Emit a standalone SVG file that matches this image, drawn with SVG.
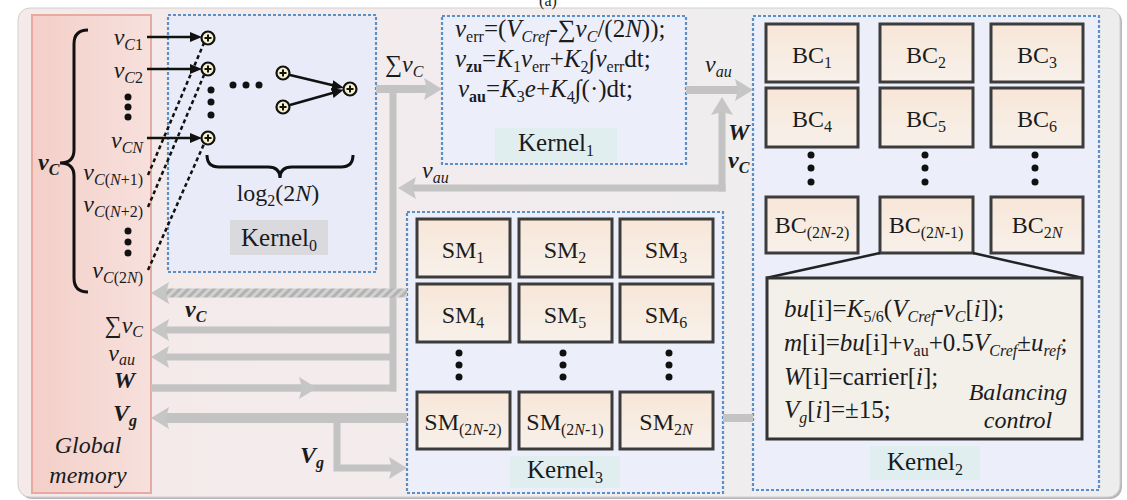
<svg xmlns="http://www.w3.org/2000/svg" width="1127" height="500" viewBox="0 0 1127 500" font-family="'Liberation Serif', 'DejaVu Serif', serif">
<defs>
<style>
text{font-family:'Liberation Serif','DejaVu Serif',serif}
.tx{font-size:24px;fill:#1b1b1b}
.it{font-style:italic}
.bd{font-weight:bold}
.sb{font-size:16px}
.kl{font-size:25px}
.kern{fill:#eceefa;stroke:#5b8fc7;stroke-width:2.2;stroke-dasharray:3 2}
.cell{fill:url(#cell);stroke:#3c3c3c;stroke-width:3}
.gl{fill:none;stroke:#c3c3c3;stroke-linejoin:miter}
.bl{fill:none;stroke:#111;stroke-width:2.5}
.dot{fill:#111}
</style>
<linearGradient id="bg" x1="0" y1="0" x2="1" y2="0">
<stop offset="0" stop-color="#f5e9e9"/>
<stop offset="0.45" stop-color="#f2ecee"/>
<stop offset="0.75" stop-color="#eeeeee"/>
<stop offset="1" stop-color="#ededed"/>
</linearGradient>
<linearGradient id="gm" x1="0" y1="0" x2="1" y2="0">
<stop offset="0" stop-color="#f3cfc8"/>
<stop offset="1" stop-color="#f7e0dc"/>
</linearGradient>
<linearGradient id="cell" x1="0" y1="0" x2="0" y2="1">
<stop offset="0" stop-color="#f8e6d8"/>
<stop offset="1" stop-color="#f7f1ea"/>
</linearGradient>
<pattern id="hatch" width="6" height="6" patternUnits="userSpaceOnUse" patternTransform="rotate(45)">
<rect width="6" height="6" fill="#d2d2d2"/>
<rect width="3" height="6" fill="#b3b3b3"/>
</pattern>
<marker id="ga" markerUnits="userSpaceOnUse" markerWidth="20" markerHeight="24" refX="8" refY="12" orient="auto">
<path d="M0,1 L18,12 L0,23 L3,12 z" fill="#c6c6c6"/>
</marker>
<marker id="ba" markerUnits="userSpaceOnUse" markerWidth="14" markerHeight="12" refX="4" refY="5" orient="auto">
<path d="M0,0 L12,5 L0,10 z" fill="#111"/>
</marker>
<g id="adder">
<circle r="6.5" fill="#f6f1c9" stroke="#111" stroke-width="2.2"/>
<path d="M-3.5,0 H3.5 M0,-3.5 V3.5" stroke="#111" stroke-width="2"/>
</g>
</defs>

<g id="background">
<rect x="20" y="10" width="1102" height="489" rx="12" fill="#b8b8b8"/>
<rect x="18" y="8" width="1102" height="489" rx="12" fill="url(#bg)" stroke="#d0d0d0" stroke-width="1"/>
<text class="tx" x="548" y="6" text-anchor="middle" style="font-size:16px">(a)</text>
</g>

<g id="global-memory">
<rect x="32" y="15" width="119" height="478" fill="url(#gm)" stroke="#e6aaa0" stroke-width="2"/>
<text class="tx it bd" x="38" y="170">v<tspan class="sb" dy="5">C</tspan></text>
<path class="bl" style="stroke-width:3" d="M88,30 Q74,30 74,44 L74,150 Q74,163 60,163 Q74,163 74,176 L74,278 Q74,292 88,292"/>
<text class="tx" x="143" y="45" text-anchor="end"><tspan class="it">v</tspan><tspan class="sb" dy="5"><tspan class="it">C</tspan>1</tspan></text>
<text class="tx" x="143" y="78" text-anchor="end"><tspan class="it">v</tspan><tspan class="sb" dy="5"><tspan class="it">C</tspan>2</tspan></text>
<circle class="dot" cx="128" cy="97" r="3.5"/><circle class="dot" cx="128" cy="107" r="3.5"/><circle class="dot" cx="128" cy="117" r="3.5"/>
<text class="tx" x="143" y="148" text-anchor="end"><tspan class="it">v</tspan><tspan class="sb it" dy="5">CN</tspan></text>
<text class="tx" x="143" y="180" text-anchor="end"><tspan class="it">v</tspan><tspan class="sb" dy="5"><tspan class="it">C</tspan>(<tspan class="it">N</tspan>+1)</tspan></text>
<text class="tx" x="143" y="212" text-anchor="end"><tspan class="it">v</tspan><tspan class="sb" dy="5"><tspan class="it">C</tspan>(<tspan class="it">N</tspan>+2)</tspan></text>
<circle class="dot" cx="128" cy="231" r="3.5"/><circle class="dot" cx="128" cy="242" r="3.5"/><circle class="dot" cx="128" cy="253" r="3.5"/>
<text class="tx" x="143" y="278" text-anchor="end"><tspan class="it">v</tspan><tspan class="sb" dy="5"><tspan class="it">C</tspan>(2<tspan class="it">N</tspan>)</tspan></text>
<text class="tx" x="143" y="333" text-anchor="end">∑<tspan class="it">v</tspan><tspan class="sb it" dy="4">C</tspan></text>
<text class="tx" x="135" y="361" text-anchor="end"><tspan class="it">v</tspan><tspan class="sb it" dy="4">au</tspan></text>
<text class="tx it bd" x="135" y="388" text-anchor="end">W</text>
<text class="tx it bd" x="137" y="421" text-anchor="end">V<tspan class="sb" dy="5">g</tspan></text>
<text class="tx it" x="88" y="453" text-anchor="middle">Global</text>
<text class="tx it" x="88" y="483" text-anchor="middle">memory</text>
</g>

<g id="kernel0">
<rect class="kern" x="168" y="15" width="208" height="257" style="fill:#e9ecf8"/>
<use href="#adder" x="208" y="38"/>
<use href="#adder" x="208" y="69"/>
<use href="#adder" x="208" y="138"/>
<circle class="dot" cx="211" cy="90" r="3.5"/><circle class="dot" cx="211" cy="102" r="3.5"/><circle class="dot" cx="211" cy="115" r="3.5"/>
<circle class="dot" cx="233" cy="85" r="3.5"/><circle class="dot" cx="246" cy="85" r="3.5"/><circle class="dot" cx="259" cy="85" r="3.5"/>
<use href="#adder" x="283" y="73"/>
<use href="#adder" x="283" y="107"/>
<use href="#adder" x="350" y="89"/>
<path class="bl" style="stroke-width:3" d="M207,155 Q207,167 219,167 L268,167 Q280,167 280,178 Q280,167 292,167 L341,167 Q353,167 353,155"/>
<text class="tx" x="278" y="201" text-anchor="middle">log<tspan class="sb" dy="5">2</tspan><tspan dy="-5">(2</tspan><tspan class="it">N</tspan>)</text>
<rect x="230" y="220" width="98" height="35" fill="#d9d9de"/>
<text class="tx kl" x="279" y="246" text-anchor="middle">Kernel<tspan class="sb" dy="5">0</tspan></text>
</g>

<g id="kernel1">
<rect class="kern" x="442" y="16" width="244" height="148"/>
<text class="tx" x="455" y="37" style="font-size:25px"><tspan class="it">v</tspan><tspan class="sb" dy="5">err</tspan><tspan dy="-5">=(</tspan><tspan class="it">V</tspan><tspan class="sb it" dy="5">Cref</tspan><tspan dy="-5">-∑</tspan><tspan class="it">v</tspan><tspan class="sb it" dy="5">C</tspan><tspan dy="-5">/(2</tspan><tspan class="it">N</tspan>));</text>
<text class="tx" x="455" y="67" style="font-size:25px"><tspan class="it">v</tspan><tspan class="sb bd" dy="5">zu</tspan><tspan dy="-5">=</tspan><tspan class="it">K</tspan><tspan class="sb" dy="5">1</tspan><tspan class="it" dy="-5">v</tspan><tspan class="sb" dy="5">err</tspan><tspan dy="-5">+</tspan><tspan class="it">K</tspan><tspan class="sb" dy="5">2</tspan><tspan dy="-5">∫</tspan><tspan class="it">v</tspan><tspan class="sb" dy="5">err</tspan><tspan dy="-5">dt;</tspan></text>
<text class="tx" x="458" y="97" style="font-size:25px"><tspan class="it">v</tspan><tspan class="sb bd" dy="5">au</tspan><tspan dy="-5">=</tspan><tspan class="it">K</tspan><tspan class="sb" dy="5">3</tspan><tspan class="it" dy="-5">e</tspan>+<tspan class="it">K</tspan><tspan class="sb" dy="5">4</tspan><tspan dy="-5">∫(·)dt;</tspan></text>
<rect x="495" y="128" width="122" height="34" fill="#e0eeef"/>
<text class="tx kl" x="556" y="151" text-anchor="middle">Kernel<tspan class="sb" dy="5">1</tspan></text>
</g>

<g id="kernel3">
<rect class="kern" x="407" y="212" width="316" height="281"/>
<rect class="cell" x="417" y="219" width="93" height="58"/>
<rect class="cell" x="519" y="219" width="93" height="58"/>
<rect class="cell" x="620" y="219" width="93" height="58"/>
<rect class="cell" x="417" y="284" width="93" height="58"/>
<rect class="cell" x="519" y="284" width="93" height="58"/>
<rect class="cell" x="620" y="284" width="93" height="58"/>
<rect class="cell" x="417" y="392" width="93" height="57"/>
<rect class="cell" x="519" y="392" width="93" height="57"/>
<rect class="cell" x="620" y="392" width="93" height="57"/>
<text class="tx" x="463" y="258" text-anchor="middle">SM<tspan class="sb" dy="5">1</tspan></text>
<text class="tx" x="565" y="258" text-anchor="middle">SM<tspan class="sb" dy="5">2</tspan></text>
<text class="tx" x="666" y="258" text-anchor="middle">SM<tspan class="sb" dy="5">3</tspan></text>
<text class="tx" x="463" y="323" text-anchor="middle">SM<tspan class="sb" dy="5">4</tspan></text>
<text class="tx" x="565" y="323" text-anchor="middle">SM<tspan class="sb" dy="5">5</tspan></text>
<text class="tx" x="666" y="323" text-anchor="middle">SM<tspan class="sb" dy="5">6</tspan></text>
<text class="tx" x="463" y="430" text-anchor="middle">SM<tspan class="sb" dy="5">(2<tspan class="it">N</tspan>-2)</tspan></text>
<text class="tx" x="565" y="430" text-anchor="middle">SM<tspan class="sb" dy="5">(2<tspan class="it">N</tspan>-1)</tspan></text>
<text class="tx" x="666" y="430" text-anchor="middle">SM<tspan class="sb" dy="5">2<tspan class="it">N</tspan></tspan></text>
<circle class="dot" cx="459" cy="353" r="3.5"/><circle class="dot" cx="459" cy="365" r="3.5"/><circle class="dot" cx="459" cy="377" r="3.5"/>
<circle class="dot" cx="563" cy="353" r="3.5"/><circle class="dot" cx="563" cy="365" r="3.5"/><circle class="dot" cx="563" cy="377" r="3.5"/>
<circle class="dot" cx="669" cy="353" r="3.5"/><circle class="dot" cx="669" cy="365" r="3.5"/><circle class="dot" cx="669" cy="377" r="3.5"/>
<rect x="510" y="456" width="110" height="32" fill="#e0eeef"/>
<text class="tx kl" x="565" y="478" text-anchor="middle">Kernel<tspan class="sb" dy="5">3</tspan></text>
</g>

<g id="kernel2">
<rect class="kern" x="753" y="16" width="346" height="474"/>
<rect class="cell" x="766" y="24" width="92" height="58"/>
<rect class="cell" x="880" y="24" width="93" height="58"/>
<rect class="cell" x="991" y="24" width="92" height="58"/>
<rect class="cell" x="766" y="88" width="92" height="59"/>
<rect class="cell" x="880" y="88" width="93" height="59"/>
<rect class="cell" x="991" y="88" width="92" height="59"/>
<rect class="cell" x="766" y="197" width="92" height="56"/>
<rect class="cell" x="880" y="197" width="93" height="56"/>
<rect class="cell" x="991" y="197" width="92" height="56"/>
<text class="tx" x="812" y="63" text-anchor="middle">BC<tspan class="sb" dy="5">1</tspan></text>
<text class="tx" x="926" y="63" text-anchor="middle">BC<tspan class="sb" dy="5">2</tspan></text>
<text class="tx" x="1037" y="63" text-anchor="middle">BC<tspan class="sb" dy="5">3</tspan></text>
<text class="tx" x="812" y="127" text-anchor="middle">BC<tspan class="sb" dy="5">4</tspan></text>
<text class="tx" x="926" y="127" text-anchor="middle">BC<tspan class="sb" dy="5">5</tspan></text>
<text class="tx" x="1037" y="127" text-anchor="middle">BC<tspan class="sb" dy="5">6</tspan></text>
<text class="tx" x="812" y="233" text-anchor="middle">BC<tspan class="sb" dy="5">(2<tspan class="it">N</tspan>-2)</tspan></text>
<text class="tx" x="926" y="233" text-anchor="middle">BC<tspan class="sb" dy="5">(2<tspan class="it">N</tspan>-1)</tspan></text>
<text class="tx" x="1037" y="233" text-anchor="middle">BC<tspan class="sb" dy="5">2<tspan class="it">N</tspan></tspan></text>
<circle class="dot" cx="811" cy="155" r="3.5"/><circle class="dot" cx="811" cy="168" r="3.5"/><circle class="dot" cx="811" cy="182" r="3.5"/>
<circle class="dot" cx="925" cy="155" r="3.5"/><circle class="dot" cx="925" cy="168" r="3.5"/><circle class="dot" cx="925" cy="182" r="3.5"/>
<circle class="dot" cx="1035" cy="155" r="3.5"/><circle class="dot" cx="1035" cy="168" r="3.5"/><circle class="dot" cx="1035" cy="182" r="3.5"/>
<path d="M880,253 L766,278 M973,253 L1083,278" stroke="#222" stroke-width="2.5" fill="none"/>
<rect x="767" y="278" width="315" height="161" fill="#f3efe9" stroke="#333" stroke-width="3"/>
<text class="tx" x="784" y="317" style="font-size:25px"><tspan class="it">bu</tspan>[i]=<tspan class="it">K</tspan><tspan class="sb" dy="5">5/6</tspan><tspan dy="-5">(</tspan><tspan class="it">V</tspan><tspan class="sb it" dy="5">Cref</tspan><tspan dy="-5">-</tspan><tspan class="it">v</tspan><tspan class="sb it" dy="5">C</tspan><tspan dy="-5">[</tspan><tspan class="it">i</tspan>]);</text>
<text class="tx" x="784" y="351" style="font-size:25px"><tspan class="it">m</tspan>[i]=<tspan class="it">bu</tspan>[i]+<tspan class="it">v</tspan><tspan class="sb" dy="5">au</tspan><tspan dy="-5">+0.5</tspan><tspan class="it">V</tspan><tspan class="sb it" dy="5">Cref</tspan><tspan dy="-5">±</tspan><tspan class="it">u</tspan><tspan class="sb it" dy="5">ref</tspan><tspan dy="-5">;</tspan></text>
<text class="tx" x="784" y="385" style="font-size:25px"><tspan class="it">W</tspan>[i]=carrier[<tspan class="it">i</tspan>];</text>
<text class="tx" x="784" y="418" style="font-size:25px"><tspan class="it">V</tspan><tspan class="sb it" dy="5">g</tspan><tspan dy="-5">[</tspan><tspan class="it">i</tspan>]=±15;</text>
<text class="tx it" x="1018" y="400" text-anchor="middle">Balancing</text>
<text class="tx it" x="1018" y="428" text-anchor="middle">control</text>
<rect x="870" y="446" width="110" height="34" fill="#e0eeef"/>
<text class="tx kl" x="925" y="470" text-anchor="middle">Kernel<tspan class="sb" dy="5">2</tspan></text>
</g>

<g id="connectors">
<path class="gl" style="stroke-width:8" d="M376,89 H432" marker-end="url(#ga)"/>
<path class="gl" style="stroke-width:7" d="M393,89 V391.5"/>
<path class="gl" style="stroke-width:7" d="M393,330 H161" marker-end="url(#ga)"/>
<path class="gl" style="stroke-width:7" d="M393,357 H161" marker-end="url(#ga)"/>
<path class="gl" style="stroke-width:7" d="M151,388 H396"/>
<path class="gl" style="stroke-width:7" d="M151,388 H307" marker-end="url(#ga)"/>
<path class="gl" style="stroke-width:8" d="M686,90 H743" marker-end="url(#ga)"/>
<path class="gl" style="stroke-width:7" d="M722,191.5 V107" marker-end="url(#ga)"/>
<path class="gl" style="stroke-width:7" d="M725.5,188 H408" marker-end="url(#ga)"/>
<path style="stroke-width:9;stroke:url(#hatch);fill:none" d="M407,293 H161" marker-end="url(#ga)"/>
<path class="gl" style="stroke-width:10" d="M407,418 H161" marker-end="url(#ga)"/>
<path class="gl" style="stroke-width:7" d="M337,418 V468 H397" marker-end="url(#ga)"/>
<path class="gl" style="stroke-width:8" d="M723,418 H753"/>
<path class="bl" d="M147,37 H194" marker-end="url(#ba)"/>
<path class="bl" d="M147,69 H194" marker-end="url(#ba)"/>
<path class="bl" d="M147,138 H194" marker-end="url(#ba)"/>
<path class="bl" style="stroke-dasharray:4 3" d="M148,175 L204,43"/>
<path class="bl" style="stroke-dasharray:4 3" d="M148,207 L204,75"/>
<path class="bl" style="stroke-dasharray:4 3" d="M148,270 L204,144"/>
<path class="bl" d="M290,75 L336,86" marker-end="url(#ba)"/>
<path class="bl" d="M290,105 L336,92" marker-end="url(#ba)"/>
<text class="tx" x="385" y="72">∑<tspan class="it">v</tspan><tspan class="sb it" dy="5">C</tspan></text>
<text class="tx" x="705" y="72"><tspan class="it">v</tspan><tspan class="sb it" dy="5">au</tspan></text>
<text class="tx it bd" x="728" y="140">W</text>
<text class="tx it bd" x="728" y="168">v<tspan class="sb" dy="5">C</tspan></text>
<text class="tx" x="422" y="178"><tspan class="it">v</tspan><tspan class="sb it" dy="5">au</tspan></text>
<text class="tx it bd" x="185" y="317">v<tspan class="sb" dy="5">C</tspan></text>
<text class="tx it bd" x="300" y="463">V<tspan class="sb" dy="5">g</tspan></text>
</g>
</svg>
